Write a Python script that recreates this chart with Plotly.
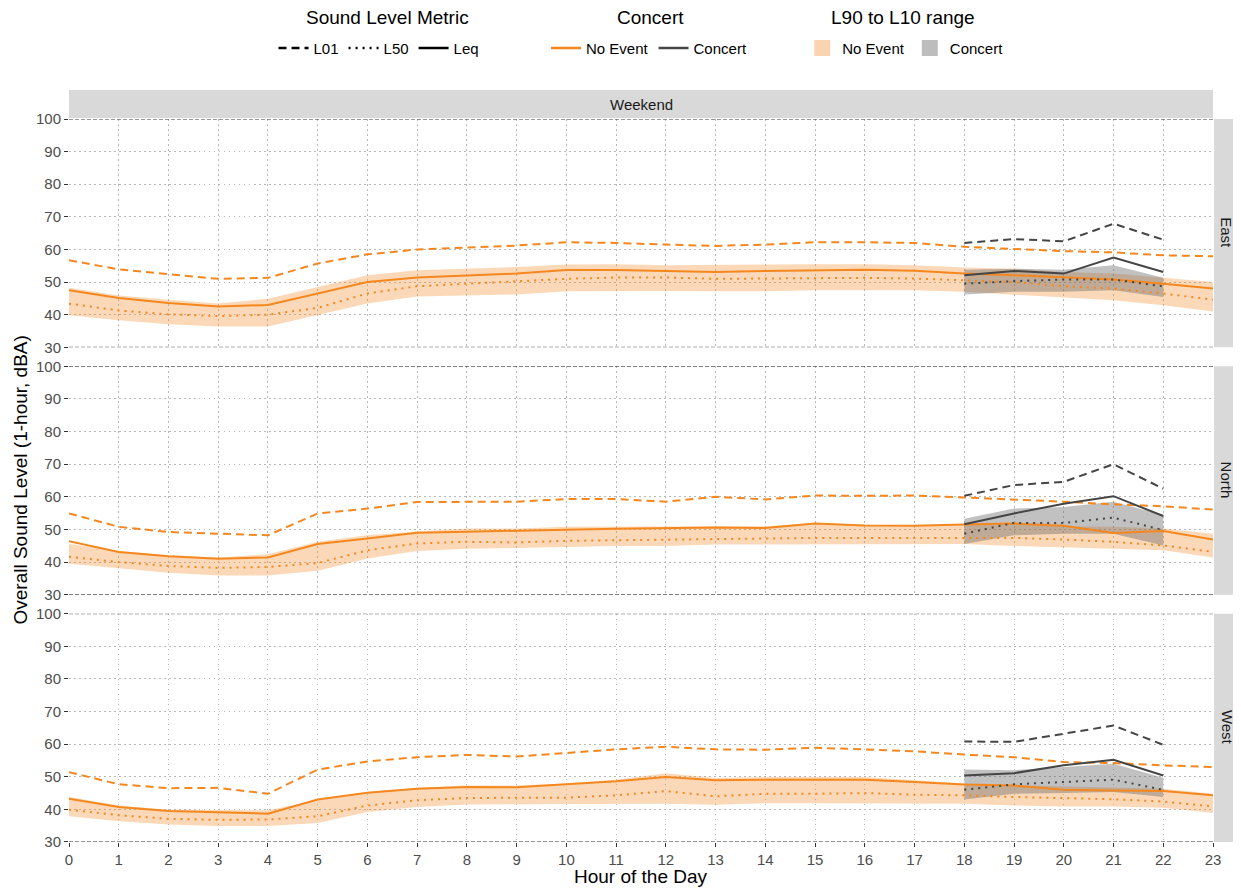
import plotly.graph_objects as go
from plotly.subplots import make_subplots

hours = list(range(24))
concert_hours = [18, 19, 20, 21, 22]
stations = ["East", "North", "West"]
hour_ticks = [str(h) for h in hours]
level_ticks = [30, 40, 50, 60, 70, 80, 90, 100]

# ---- East ----
east_ne_L01 = [56.7, 53.9, 52.4, 51.0, 51.3, 55.7, 58.5, 60.0, 60.6, 61.2, 62.2, 62.0, 61.5, 61.1, 61.5, 62.2, 62.2, 62.0, 60.8, 60.1, 59.5, 59.1, 58.2, 57.9]
east_ne_Leq = [47.5, 45.1, 43.6, 42.5, 43.0, 46.5, 50.0, 51.4, 51.9, 52.6, 53.7, 53.7, 53.4, 53.1, 53.4, 53.6, 53.8, 53.5, 52.6, 52.1, 51.4, 50.8, 49.5, 48.0]
east_ne_L50 = [43.4, 41.3, 40.1, 39.6, 40.0, 42.1, 46.5, 48.7, 49.5, 50.2, 51.0, 51.4, 51.4, 51.0, 51.1, 51.3, 51.3, 51.1, 50.6, 50.0, 48.7, 48.0, 46.5, 44.6]
east_ne_L10 = [48.3, 45.9, 44.6, 43.4, 44.9, 48.5, 52.1, 53.6, 54.1, 54.6, 55.4, 55.5, 55.2, 55.2, 55.4, 55.5, 55.5, 55.2, 54.5, 54.1, 53.1, 52.6, 51.3, 50.0]
east_ne_L90 = [39.8, 38.3, 37.1, 36.4, 36.4, 39.8, 43.4, 45.6, 45.9, 46.2, 47.2, 47.3, 47.3, 47.2, 47.2, 47.5, 47.5, 47.5, 47.0, 46.2, 45.4, 44.4, 42.9, 41.0]
east_c_L01 = [62.0, 63.2, 62.5, 67.9, 63.0]
east_c_Leq = [52.1, 53.4, 52.6, 57.5, 53.1]
east_c_L50 = [49.5, 50.3, 50.8, 50.8, 48.7]
east_c_L10 = [53.8, 54.1, 53.8, 55.2, 51.3]
east_c_L90 = [46.2, 47.0, 47.0, 47.5, 45.4]

# ---- North ----
north_ne_L01 = [54.9, 50.8, 49.2, 48.7, 48.2, 54.9, 56.4, 58.4, 58.5, 58.5, 59.3, 59.3, 58.5, 60.0, 59.2, 60.4, 60.3, 60.4, 59.8, 59.2, 58.5, 57.7, 57.1, 56.1]
north_ne_Leq = [46.4, 43.1, 41.8, 41.0, 41.4, 45.5, 47.2, 49.0, 49.3, 49.5, 49.9, 50.2, 50.3, 50.6, 50.4, 51.8, 51.2, 51.1, 51.5, 51.8, 51.1, 48.9, 49.5, 46.9]
north_ne_L50 = [41.6, 40.0, 38.8, 38.2, 38.5, 39.7, 43.6, 45.7, 46.2, 46.0, 46.5, 46.7, 46.9, 47.1, 47.2, 47.4, 47.4, 47.4, 47.5, 47.4, 46.9, 46.2, 45.1, 43.1]
north_ne_L10 = [45.5, 43.4, 42.1, 41.4, 42.4, 46.2, 48.2, 49.4, 50.3, 50.3, 50.8, 50.8, 51.0, 51.0, 51.0, 52.0, 51.0, 51.0, 51.8, 51.8, 51.0, 50.8, 50.3, 48.7]
north_ne_L90 = [39.5, 38.0, 36.7, 35.9, 35.9, 37.3, 41.1, 43.4, 44.1, 44.3, 44.6, 44.9, 44.9, 45.4, 45.4, 45.4, 45.4, 45.4, 45.5, 44.9, 44.6, 44.1, 43.6, 41.4]
north_c_L01 = [60.3, 63.6, 64.6, 70.0, 62.5]
north_c_Leq = [51.6, 54.9, 57.9, 60.2, 54.1]
north_c_L50 = [48.7, 52.0, 52.0, 53.6, 49.8]
north_c_L10 = [53.3, 56.4, 56.9, 58.5, 54.4]
north_c_L90 = [45.5, 48.2, 48.7, 48.7, 45.1]

# ---- West ----
west_ne_L01 = [51.4, 47.7, 46.5, 46.6, 44.8, 52.2, 54.7, 56.0, 56.7, 56.2, 57.3, 58.4, 59.2, 58.4, 58.3, 58.9, 58.4, 57.8, 56.8, 56.0, 54.5, 54.2, 53.5, 53.0]
west_ne_Leq = [43.3, 40.7, 39.5, 39.2, 38.7, 43.0, 45.1, 46.3, 46.9, 46.8, 47.7, 48.6, 49.9, 48.9, 49.1, 49.1, 49.1, 48.4, 47.6, 47.3, 46.0, 45.8, 45.6, 44.3]
west_ne_L50 = [39.9, 38.2, 37.1, 36.8, 36.9, 37.9, 41.2, 42.8, 43.5, 43.6, 43.6, 44.3, 45.6, 44.0, 44.8, 44.8, 45.0, 44.5, 44.3, 43.8, 43.5, 43.1, 42.4, 40.9]
west_ne_L10 = [43.8, 41.2, 39.9, 39.7, 39.7, 42.8, 45.3, 46.6, 47.3, 47.3, 47.9, 49.1, 51.1, 49.6, 49.9, 49.9, 49.9, 48.9, 47.9, 47.4, 47.1, 46.8, 46.3, 44.8]
west_ne_L90 = [37.9, 36.4, 35.4, 34.9, 34.9, 35.8, 39.2, 40.7, 41.5, 41.5, 41.5, 41.5, 41.7, 41.4, 41.9, 41.9, 41.9, 41.9, 41.7, 41.2, 40.9, 40.9, 40.5, 38.9]
west_c_L01 = [60.8, 60.7, 63.2, 65.7, 59.8]
west_c_Leq = [50.4, 51.1, 53.5, 55.2, 50.4]
west_c_L50 = [46.0, 47.7, 48.4, 49.1, 46.0]
west_c_L10 = [52.2, 52.0, 53.0, 54.0, 49.7]
west_c_L90 = [43.0, 44.8, 45.0, 45.3, 43.8]

data = {
    "East": dict(ne=(east_ne_L01, east_ne_Leq, east_ne_L50, east_ne_L10, east_ne_L90),
                 c=(east_c_L01, east_c_Leq, east_c_L50, east_c_L10, east_c_L90)),
    "North": dict(ne=(north_ne_L01, north_ne_Leq, north_ne_L50, north_ne_L10, north_ne_L90),
                  c=(north_c_L01, north_c_Leq, north_c_L50, north_c_L10, north_c_L90)),
    "West": dict(ne=(west_ne_L01, west_ne_Leq, west_ne_L50, west_ne_L10, west_ne_L90),
                 c=(west_c_L01, west_c_Leq, west_c_L50, west_c_L10, west_c_L90)),
}

ORANGE = "#f5871f"
GREY = "#454545"
ORANGE_FILL = "rgba(242,140,40,0.33)"
GREY_FILL = "rgba(100,100,100,0.40)"
DASH = "8px,5px"
DOT = "2px,5px"
FONT = "Liberation Sans, Arial, sans-serif"

fig = make_subplots(rows=3, cols=1, shared_xaxes=True, vertical_spacing=0.0263)

for r, st in enumerate(stations, start=1):
    ne = data[st]["ne"]
    c = data[st]["c"]
    # ribbons (L90 to L10)
    fig.add_trace(go.Scatter(x=hours, y=ne[4], mode="lines", line=dict(width=0), showlegend=False, hoverinfo="skip"), row=r, col=1)
    fig.add_trace(go.Scatter(x=hours, y=ne[3], mode="lines", line=dict(width=0), fill="tonexty",
                             fillcolor=ORANGE_FILL, showlegend=False, hoverinfo="skip"), row=r, col=1)
    fig.add_trace(go.Scatter(x=concert_hours, y=c[4], mode="lines", line=dict(width=0), showlegend=False, hoverinfo="skip"), row=r, col=1)
    fig.add_trace(go.Scatter(x=concert_hours, y=c[3], mode="lines", line=dict(width=0), fill="tonexty",
                             fillcolor=GREY_FILL, showlegend=False, hoverinfo="skip"), row=r, col=1)
    # metric lines
    for vals, dash in ((ne[0], DASH), (ne[2], DOT), (ne[1], "solid")):
        fig.add_trace(go.Scatter(x=hours, y=vals, mode="lines", line=dict(color=ORANGE, width=2, dash=dash),
                                 showlegend=False), row=r, col=1)
    for vals, dash in ((c[0], DASH), (c[2], DOT), (c[1], "solid")):
        fig.add_trace(go.Scatter(x=concert_hours, y=vals, mode="lines", line=dict(color=GREY, width=2, dash=dash),
                                 showlegend=False), row=r, col=1)
    for yv in (30, 100):
        fig.add_hline(y=yv, row=r, col=1, line=dict(color="#333333", width=1, dash="4px,2px"))

# legend entries
for name, dash in (("L01", DASH), ("L50", DOT), ("Leq", "solid")):
    fig.add_trace(go.Scatter(x=[None], y=[None], mode="lines", name=name,
                             line=dict(color="black", width=2.5, dash=dash), legend="legend"), row=1, col=1)
for name, col in (("No Event", ORANGE), ("Concert", GREY)):
    fig.add_trace(go.Scatter(x=[None], y=[None], mode="lines", name=name,
                             line=dict(color=col, width=2.5), legend="legend2"), row=1, col=1)
for name, col in (("No Event", "#f8d4b2"), ("Concert", "#bdbdbd")):
    fig.add_trace(go.Scatter(x=[None], y=[None], mode="markers", name=name,
                             marker=dict(color=col, symbol="square", size=18), legend="legend3"), row=1, col=1)

leg_common = dict(orientation="h", yanchor="middle", y=1.098, xanchor="center", traceorder="normal",
                  font=dict(size=15, color="black", family=FONT), itemwidth=30,
                  bgcolor="rgba(0,0,0,0)")
fig.update_layout(
    legend=dict(**leg_common, x=0.271),
    legend2=dict(**leg_common, x=0.507),
    legend3=dict(**leg_common, x=0.731),
)

fig.update_xaxes(range=[0, 23], tickmode="array", tickvals=hours, ticktext=hour_ticks,
                 showgrid=True, gridcolor="#b8b8b8", griddash="1.5px,3.5px", gridwidth=1,
                 zeroline=False, showline=False,
                 tickfont=dict(size=15, color="#4d4d4d", family=FONT))
fig.update_xaxes(ticks="outside", ticklen=4, tickcolor="#333333", row=3, col=1)
fig.update_yaxes(range=[30, 100], tickmode="array", tickvals=level_ticks,
                 showgrid=True, gridcolor="#b8b8b8", griddash="1.5px,3.5px", gridwidth=1,
                 zeroline=False, showline=False, ticks="outside", ticklen=4, tickcolor="#333333",
                 tickfont=dict(size=15, color="#4d4d4d", family=FONT))

# strips and titles
shapes = []
annotations = []
doms = [fig.layout.yaxis.domain, fig.layout.yaxis2.domain, fig.layout.yaxis3.domain]
for st, dom in zip(stations, doms):
    shapes.append(dict(type="rect", xref="paper", yref="paper", x0=1.0009, x1=1.03, y0=dom[0], y1=dom[1],
                       fillcolor="#d9d9d9", line=dict(width=0), layer="below"))
    annotations.append(dict(text=st, xref="paper", yref="paper", x=1.0122, y=(dom[0] + dom[1]) / 2,
                            xanchor="center", yanchor="middle",
                            showarrow=False, textangle=90, font=dict(size=15, color="#1a1a1a", family=FONT)))
shapes.append(dict(type="rect", xref="paper", yref="paper", x0=0, x1=1, y0=1.0014, y1=1.0401,
                   fillcolor="#d9d9d9", line=dict(width=0), layer="below"))
annotations.append(dict(text="Weekend", xref="paper", yref="paper", x=0.5, y=1.0207, showarrow=False,
                        xanchor="center", yanchor="middle",
                        font=dict(size=15, color="#1a1a1a", family=FONT)))
annotations.append(dict(text="Overall Sound Level (1-hour, dBA)", xref="paper", yref="paper", x=-0.0428, y=0.5,
                        xanchor="center", yanchor="middle",
                        showarrow=False, textangle=-90, font=dict(size=19, color="black", family=FONT)))
annotations.append(dict(text="Hour of the Day", xref="paper", yref="paper", x=0.5, y=-0.0484,
                        xanchor="center", yanchor="middle",
                        showarrow=False, font=dict(size=19, color="black", family=FONT)))
# legend group titles
for txt, xp in (("Sound Level Metric", 0.278), ("Concert", 0.508), ("L90 to L10 range", 0.729)):
    annotations.append(dict(text=txt, xref="paper", yref="paper", x=xp, y=1.141, xanchor="center",
                            yanchor="middle", showarrow=False, font=dict(size=19, color="black", family=FONT)))

# page body has an 8px margin: figure is sized/offset so the plot lands where the reference has it
fig.update_layout(
    width=1233, height=884,
    margin=dict(l=61, r=28, t=111, b=50),
    plot_bgcolor="white", paper_bgcolor="white",
    font=dict(family=FONT),
    shapes=list(fig.layout.shapes) + shapes,
    annotations=annotations,
)

fig.write_html("out.html")
